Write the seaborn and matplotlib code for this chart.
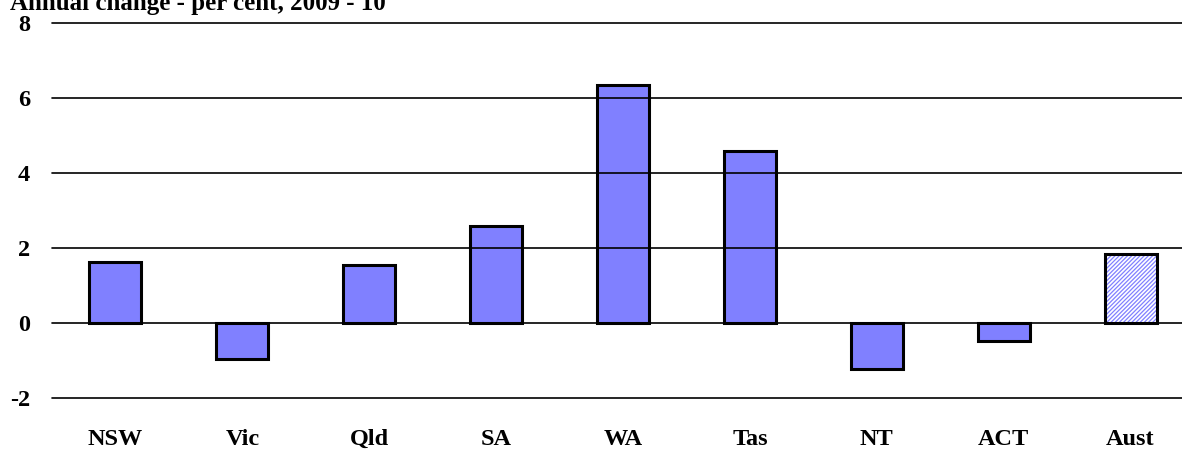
import seaborn as sns
import matplotlib.pyplot as plt
import pandas as pd

# Data
states = ['NSW', 'Vic', 'Qld', 'SA', 'WA', 'Tas', 'NT', 'ACT', 'Aust']
change = [1.63, -0.96, 1.55, 2.59, 6.35, 4.59, -1.23, -0.48, 1.84]
yticks = [-2, 0, 2, 4, 6, 8]

df = pd.DataFrame({'state': states, 'change': change})

sns.set_style('white')
plt.rcParams['font.family'] = ['Liberation Serif', 'DejaVu Serif']
plt.rcParams['font.weight'] = 'bold'
plt.rcParams['text.color'] = 'black'
plt.rcParams['xtick.color'] = 'black'
plt.rcParams['ytick.color'] = 'black'
plt.rcParams['hatch.linewidth'] = 0.9

fig = plt.figure(figsize=(11.82, 4.49), dpi=100)
ax = fig.add_axes([52 / 1182, 51 / 449, 1142 / 1182, 375 / 449])

# Fill layer
sns.barplot(data=df, x='state', y='change', color='#8080FF', saturation=1,
            width=0.41, linewidth=0, ax=ax)
n_fill = len(ax.patches)
aust = ax.patches[n_fill - 1]
aust.set_facecolor('white')
aust.set_edgecolor('#8080FF')
aust.set_hatch('////////')

# Outline layer
sns.barplot(data=df, x='state', y='change', color='#8080FF', saturation=1,
            width=0.41, ax=ax)
for p in ax.patches[n_fill:]:
    p.set_facecolor('none')
    p.set_edgecolor('black')
    p.set_linewidth(2.2)
    p.set_zorder(3)

ax.set_ylim(-2, 8)
ax.set_xlim(-0.5, len(states) - 0.5)
ax.set_yticks(yticks)
ax.set_yticklabels([str(t) for t in yticks], fontsize=17.5, fontweight='bold')
ax.set_xticklabels(states, fontsize=17.5, fontweight='bold')
ax.tick_params(axis='y', length=0, pad=16, labelcolor='black')
ax.tick_params(axis='x', length=0, pad=22, labelcolor='black')
ax.set_xlabel('')
ax.set_ylabel('')
for y in yticks:
    ax.axhline(y, color='black', lw=1.2, zorder=1, clip_on=False)
for s in ax.spines.values():
    s.set_visible(False)

fig.text(10 / 1182, 1 - 10 / 449, 'Annual change - per cent, 2009 - 10',
         fontsize=18, fontweight='bold', ha='left', va='baseline', color='black')

fig.savefig('out.png', dpi=100)
